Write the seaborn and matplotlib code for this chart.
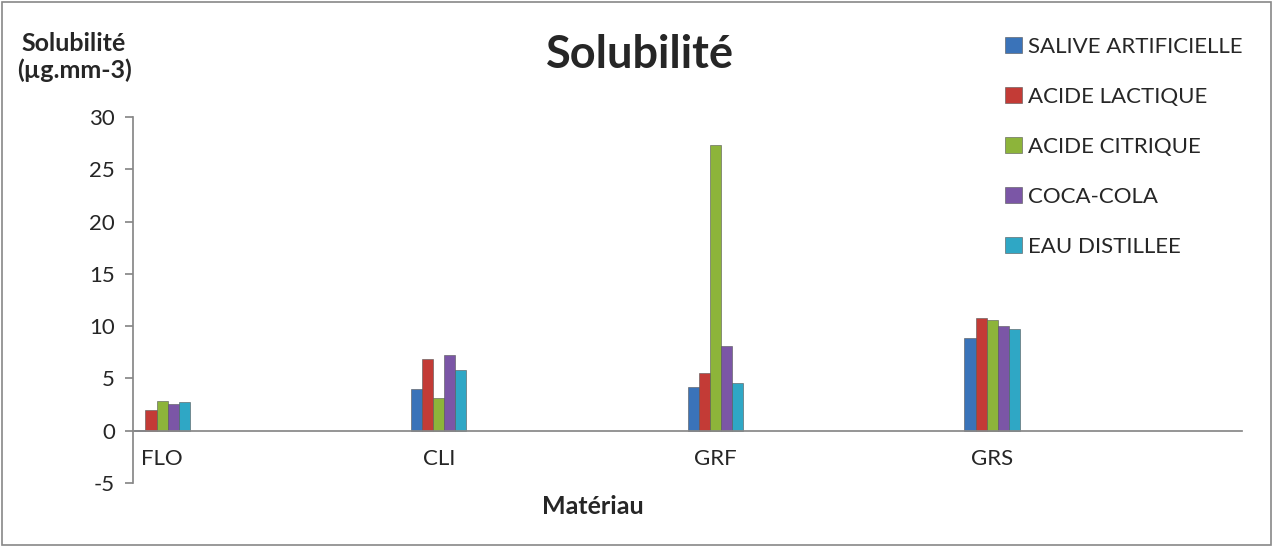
import matplotlib
matplotlib.use("Agg")
import matplotlib.pyplot as plt
import seaborn as sns
import pandas as pd
from matplotlib.patches import Rectangle

materials = ["FLO", "CLI", "GRF", "GRS"]
series = ["SALIVE ARTIFICIELLE", "ACIDE LACTIQUE", "ACIDE CITRIQUE", "COCA-COLA", "EAU DISTILLEE"]
salive = [0.1, 4.0, 4.2, 8.9]
lactique = [2.0, 6.9, 5.5, 10.8]
citrique = [2.8, 3.1, 27.3, 10.6]
coca = [2.6, 7.2, 8.1, 10.0]
eau = [2.7, 5.8, 4.6, 9.7]
yticks = [-5, 0, 5, 10, 15, 20, 25, 30]
colors = ["#3A73B9", "#C33B36", "#8DB43A", "#7B56A6", "#2FA7C5"]

rows = []
for s, vals in zip(series, [salive, lactique, citrique, coca, eau]):
    for m, v in zip(materials, vals):
        rows.append({"Matériau": m, "Solution": s, "Solubilité": v})
df = pd.DataFrame(rows)

sns.set_theme(style="white")
plt.rcParams['font.family'] = ['Lato', 'DejaVu Sans']
plt.rcParams['axes.unicode_minus'] = False

fig = plt.figure(figsize=(12.74, 5.47), dpi=100)
ax = fig.add_axes([133/1274, 1-483/547, (1242-133)/1274, (483-117)/547])

sns.barplot(data=df, x="Matériau", y="Solubilité", hue="Solution", hue_order=series,
            palette=colors, width=0.2, ax=ax, saturation=1, edgecolor="#555555", linewidth=0.4)

ax.set_ylim(-5, 30)
ax.set_yticks(yticks)
ax.set_xlim(-0.105, 3.903)
ax.set_xlabel("")
ax.set_ylabel("")

for sp in ["top", "right"]:
    ax.spines[sp].set_visible(False)
ax.spines["left"].set_color("#888888")
ax.spines["bottom"].set_color("#888888")
ax.spines["bottom"].set_position(("data", 0))
ax.tick_params(axis="y", left=True, length=6, color="#888888", labelsize=16, pad=7)
ax.tick_params(axis="x", bottom=False, labelsize=16, pad=7)

leg = ax.legend(loc="upper left", bbox_to_anchor=(1005/1274, 1-37/547), bbox_transform=fig.transFigure,
                frameon=False, handlelength=0.75, handleheight=0.75, handletextpad=0.3,
                labelspacing=1.35, fontsize=16, borderaxespad=0, borderpad=0)

fig.text(640/1274, 1-55/547, "Solubilité", ha="center", va="center", fontsize=32.5, fontweight="bold")
fig.text(74/1274, 1-57/547, "Solubilité\n(µg.mm-3)", ha="center", va="center", fontsize=18,
         fontweight="bold", linespacing=1.2)
fig.text(593/1274, 1-507/547, "Matériau", ha="center", va="center", fontsize=18, fontweight="bold")

fig.patches.append(Rectangle((2/1274, 2/547), 1269/1274, 543/547, transform=fig.transFigure,
                             fill=False, edgecolor="#888888", linewidth=1.2))

fig.savefig("out.png", dpi=100)
